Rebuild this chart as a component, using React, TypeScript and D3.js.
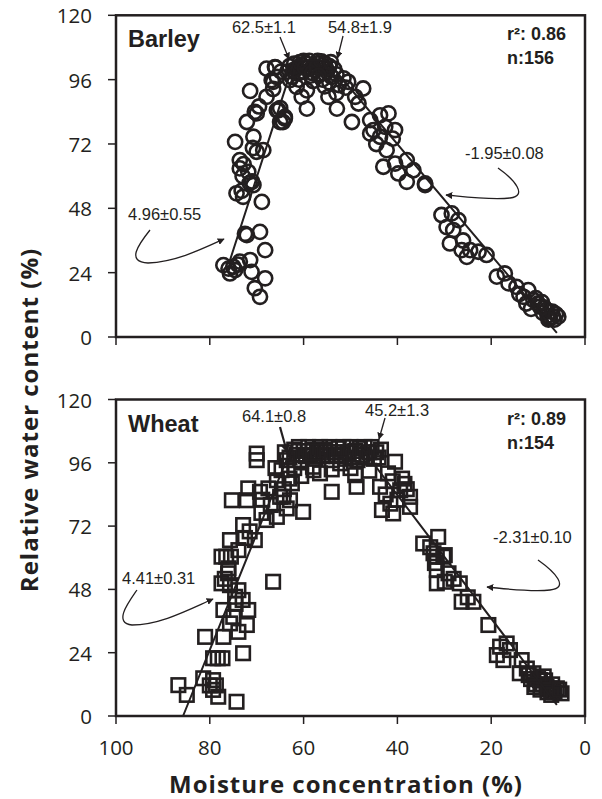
import React from "react";
import * as d3 from "d3";

const xTicks = [100, 80, 60, 40, 20, 0];
const yTicks = [0, 24, 48, 72, 96, 120];

// [moisture %, relative water content %]
const barleyPoints: [number, number][] = [
  [67.9,100.1],[71.4,91.8],[66.8,95.8],[65.7,97],[67.9,89.6],[65.4,84.6],[70,83.4],[72.1,80.2],[64.4,80.2],[70.7,74.7],
  [74.6,72.8],[68.6,69.7],[70,69.1],[73.6,66],[73.6,62.9],[71.8,61.6],[70.7,56.7],[74.3,53.6],[72.9,52.3],[68.9,50.4],
  [72.1,38],[69.3,39.2],[68.2,32.4],[77.1,26.8],[75,26.2],[75.7,23.7],[73.6,28.1],[71.4,28.7],[71.1,24.3],[68.2,21.9],
  [70.4,18.2],[69.3,15],[74.6,25],[71,58],[70.4,84],[65.7,84.6],[64,81.5],[72.8,64.5],[71.5,57.5],[73.2,54.5],
  [70.8,70.5],[72.5,38.5],[74,27],[76,25.5],[73,60],[69.5,86],[66.5,92.5],[64.8,99],[66,100.5],
  [66.1,100.7],[66.5,95.2],[65,85.4],[64,82.1],[65,80.2],[61.5,93.3],[59.3,92],[59.3,85.2],[60.4,89.6],[62.9,95.8],
  [63,101],[62,102],[61.5,100],[61,98.5],[60.5,101.5],[60,99],[59.5,102],[59,100.5],[58.5,97.5],[58,101],
  [57.5,99.5],[57,102],[56.5,98],[56,100.5],[55.5,102],[55,99],[54.5,101],[54,97],[53.5,100],[53,98],
  [62.5,97],[61,96],[58,95.5],[56,96],[54.5,95],[60,103],[57,103],[63.5,99],[52.5,94],[55.5,93.5],[53,91],[51.5,96.5],[51,93],
  [62.2,99.5],[60.8,102.5],[59.8,100.5],[58.8,103],[58.2,98.5],[57.2,100.8],[56.2,102.8],[55.2,100.2],[54.2,102.5],[56.8,97.5],
  [54.7,89.6],[52.9,85.2],[50.5,95.2],[47.3,92.7],[49,89.6],[48.3,87.1],[49.7,80.2],[45.8,80.9],[43.7,82.7],[41.9,83.4],
  [45.1,77.2],[42.6,78.4],[40.5,77.2],[45.8,75.9],[43.7,74.7],[42.3,69.7],[43,63.5],[40.5,64.7],[38,66],[36.6,62.2],
  [39.8,61],[38,57.9],[34.1,57.3],[34.1,56.7],[44.5,72],[41,74],
  [30.6,45.5],[28.4,46.1],[27,43.6],[28.1,39.9],[28.8,34.9],[26.3,32.4],[24.5,32.4],[22.7,31.8],[21,30.6],[25.2,29.9],
  [18.8,22.5],[17.1,23.7],[16.3,20],[14.6,18.7],[12.1,17.5],[13.1,15],[11,13.8],[9.6,11.3],[8.2,10.1],[6.8,7.6],
  [5.7,7.6],[7.5,7],[10,12.5],[11.5,10.5],[9,9],[8,8],[7,9.5],[6.5,6.5],[10.5,14.5],[12.5,12.5],
  [9.2,13],[8.7,11],[7.8,6.5],[6.2,8.5],[14,16],[29.5,41],[26,36],
];

const wheatPoints: [number, number][] = [
  [70,99.5],[70,97],[71.8,86.3],[75.3,81.8],[72.1,81.8],[69.3,85],[67.5,86.3],[65.7,89.4],[64.7,93.2],[63.6,97],
  [65,83.1],[62.9,81.8],[65.7,75.5],[67.9,74.3],[72.9,72.4],[70.4,66.7],[75.7,66.7],[73.9,62.9],[77.5,60.4],[76.5,60.4],
  [75.5,60.4],[76.1,54.1],[77.5,50.3],[75.7,49.6],[73.9,47.7],[74.6,45.2],[77.1,40.2],[71.8,40.2],[75,37.6],[75.7,35.1],
  [72.1,34.5],[73.9,31.9],[81,30],[77.1,30],[79.3,21.9],[78.3,21.9],[77.3,21.9],[72.9,23.8],[81.4,14.3],[79.3,13.6],
  [80,11.6],[78.7,11.6],[79.3,9.9],[86.7,11.7],[84.9,8],[78.2,7.3],[74.3,5.4],[66.5,50.9],
  [76.8,52],[74.5,42.5],[73,44],[76,56],[71.5,70],[69,77],[67,80],[66,94],[68.8,82],[64.2,86],[63,90],[72.5,67.5],
  [64,100],[63,98],[62,101],[61.5,99],[61,102],[60.5,97],[60,100.5],[59.5,98.5],[59,102],[58.5,99],
  [58,101],[57.5,97.5],[57,100],[56.5,102],[56,98.5],[55.5,101],[55,99],[54.5,102],[54,97],[53.5,100],
  [53,98.5],[52.5,101.5],[52,99],[51.5,102],[51,97.5],[50.5,100],[50,102],[49.5,98],[49,100.5],[48.5,97],
  [48,101.5],[47.5,99],[47,102],[46.5,98],[46,100],[45.5,102],[45,97.5],[44.5,100],[44,98],[43.5,101],
  [62,94],[58,94.5],[54,93.5],[50,94],[46,93],[60.5,91],[56.5,92],[52.2,95.8],[49,91.3],[54,85],
  [48.7,86.9],[60.1,77.4],[63.6,78.7],[40.5,96.4],[43.7,86.9],[43.3,78.1],[40.9,76.8],[37.3,83.1],[39.4,85.6],[37.3,79.3],
  [64.3,83.1],[62.5,88.2],[57.9,93.2],[42,92],[41,89],[39,90],[38.5,88],[42.5,84],[40,82],[38,86],[41.5,80.5],
  [34.5,65.4],[31.3,67.9],[32.3,61.7],[30.2,60.4],[31.6,55.3],[29.1,54.1],[31.6,60.4],[29.9,61],[31.6,50.3],[29.9,50.9],
  [26.7,50.3],[26.3,43.3],[23.8,43.3],[20.6,34.5],[18.1,26.3],[16.7,27.5],[18.8,23.1],[16,25],[17.4,21.2],[13.5,21.2],
  [12.4,18],[13.9,16.2],[11,16.2],[9.6,13.6],[8.2,11.1],[6.8,9.9],[5,8.6],[33,64],[32,58],[28,52],[25,45],
  [10,14],[9,12],[8.5,13.5],[7.5,10.5],[7,12],[6.5,9],[6,10.5],[10.5,12],[11.5,14],[9.5,10],
  [8,9],[12,15.5],[7.2,8],[5.5,10],[8.8,15],[10.8,11],
];

// Segmented regression lines [moisture, RWC]
const barleyFit: [number, number][] = [[76, 27], [62, 103], [55, 103], [6, 1.5]];
const wheatFit: [number, number][] = [[85.7, 0], [62.3, 103], [48, 102.5], [6, 4.2]];

const INK = "#231f20";

type Ann = { text: string; x: number; y: number; anchor?: string; path: string; bold?: boolean };

function Panel(props: {
  top: number; bottom: number; points: [number, number][]; shape: "circle" | "square";
  fit: [number, number][]; name: string; r2: string; n: string; anns: Ann[]; showX: boolean; nameY: number; r2Y: number;
}) {
  const { top, bottom, points, shape, fit, name, r2, n, anns, showX, nameY, r2Y } = props;
  const x = d3.scaleLinear().domain([100, 0]).range([116, 585]);
  const y = d3.scaleLinear().domain([0, 120]).range([bottom, top]);
  const line = d3.line<[number, number]>().x(d => x(d[0])).y(d => y(d[1]));
  const s = 13.5;
  return (
    <g>
      {points.map((p, i) =>
        shape === "circle" ? (
          <circle key={i} cx={x(p[0])} cy={y(p[1])} r={7.1} fill="none" stroke={INK} strokeWidth={2.6} />
        ) : (
          <rect key={i} x={x(p[0]) - s / 2} y={y(p[1]) - s / 2} width={s} height={s} fill="none" stroke={INK} strokeWidth={2.6} />
        )
      )}
      <path d={line(fit) || ""} fill="none" stroke={INK} strokeWidth={2} />
      <rect x={116} y={top} width={469} height={bottom - top} fill="none" stroke={INK} strokeWidth={2.5} />
      {yTicks.map(t => (
        <g key={t}>
          <line x1={108} x2={116} y1={y(t)} y2={y(t)} stroke={INK} strokeWidth={1.5} />
          <text x={92} y={y(t)} textAnchor="end" dominantBaseline="central" fontFamily="Open Sans" fontSize={20.5} fill={INK}>{t}</text>
        </g>
      ))}
      {xTicks.map(t => (
        <g key={t}>
          <line x1={x(t)} x2={x(t)} y1={bottom} y2={bottom + 8} stroke={INK} strokeWidth={1.5} />
          {showX && (
            <text x={x(t)} y={bottom + 31} textAnchor="middle" dominantBaseline="central" fontFamily="Open Sans" fontSize={20.5} fill={INK}>{t}</text>
          )}
        </g>
      ))}
      <text x={128} y={nameY} fontFamily="Liberation Sans" fontWeight="bold" fontSize={23.5} fill={INK}>{name}</text>
      <text x={507} y={r2Y} fontFamily="Liberation Sans" fontWeight="bold" fontSize={18} fill={INK}>{r2}</text>
      <text x={507} y={r2Y + 24} fontFamily="Liberation Sans" fontWeight="bold" fontSize={18} fill={INK}>{n}</text>
      {anns.map((a, i) => (
        <g key={i}>
          <text x={a.x} y={a.y} textAnchor={a.anchor || "start"} dominantBaseline="central" fontFamily="Liberation Sans" fontSize={16.5} fill={INK}>{a.text}</text>
          <path d={a.path} fill="none" stroke={INK} strokeWidth={a.bold ? 2.2 : 1.3} markerEnd={a.bold ? "url(#arrowB)" : "url(#arrow)"} />
        </g>
      ))}
    </g>
  );
}

export default function App() {
  const barleyAnns: Ann[] = [
    { text: "62.5±1.1", x: 264, y: 27, anchor: "middle", path: "M280,37 L289,59" },
    { text: "54.8±1.9", x: 360, y: 27, anchor: "middle", path: "M343,36 L337.5,58" },
    { text: "4.96±0.55", x: 128, y: 214, path: "M150,230 C138,245 126,262 148,263 C175,262 200,250 224,239" },
    { text: "-1.95±0.08", x: 465, y: 153, path: "M498,168 C515,180 528,196 510,198 C490,200 467,197 446,195" },
  ];
  const wheatAnns: Ann[] = [
    { text: "64.1±0.8", x: 242, y: 416, path: "M280,427 L287,452", bold: true },
    { text: "45.2±1.3", x: 365, y: 410, path: "M385,418 L379,439" },
    { text: "4.41±0.31", x: 122, y: 578, path: "M137,590 C128,603 113,623 132,625 C160,625 188,610 213,599" },
    { text: "-2.31±0.10", x: 493, y: 537, path: "M538,560 C555,572 570,588 550,590 C530,592 508,589 487,587" },
  ];
  return (
    <svg width={602} height={799} style={{ position: "absolute", left: 0, top: 0, background: "#fff" }}>
      <defs>
        <marker id="arrow" viewBox="0 0 10 10" refX="9" refY="5" markerWidth="7" markerHeight="7" markerUnits="userSpaceOnUse" orient="auto">
          <path d="M0,0 L10,5 L0,10 z" fill={INK} />
        </marker>
        <marker id="arrowB" viewBox="0 0 10 10" refX="9" refY="5" markerWidth="8" markerHeight="8" markerUnits="userSpaceOnUse" orient="auto">
          <path d="M0,0 L10,5 L0,10 z" fill={INK} />
        </marker>
      </defs>
      <rect width={602} height={799} fill="#fff" />
      <Panel top={15.3} bottom={337} points={barleyPoints} shape="circle" fit={barleyFit} name="Barley" r2="r²: 0.86" n="n:156" anns={barleyAnns} showX={false} nameY={47} r2Y={40} />
      <Panel top={399.5} bottom={716} points={wheatPoints} shape="square" fit={wheatFit} name="Wheat" r2="r²: 0.89" n="n:154" anns={wheatAnns} showX={true} nameY={432} r2Y={425} />
      <text x={346} y={783} textAnchor="middle" dominantBaseline="central" fontFamily="Open Sans" fontWeight="bold" fontSize={24} letterSpacing={1} fill={INK}>Moisture concentration (%)</text>
      <text transform="translate(28,420) rotate(-90)" textAnchor="middle" dominantBaseline="central" fontFamily="Open Sans" fontWeight="bold" fontSize={24} letterSpacing={1} fill={INK}>Relative water content (%)</text>
    </svg>
  );
}
